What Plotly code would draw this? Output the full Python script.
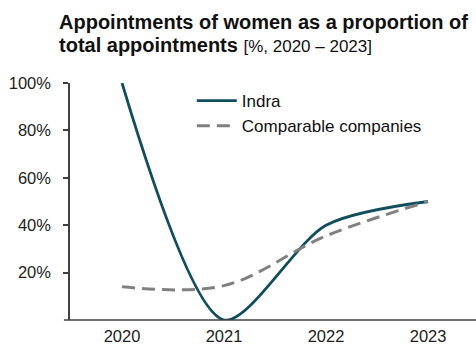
import plotly.graph_objects as go

years = [2020, 2021, 2022, 2023]
indra = [100, 0, 40, 50]
comparable = [14, 14.5, 35.5, 50]
y_ticks = [20, 40, 60, 80, 100]
y_tick_labels = ["20%", "40%", "60%", "80%", "100%"]

FONT = "Liberation Sans, Arial, sans-serif"
PLOT_BOTTOM = 320
PLOT_H = 237

fig = go.Figure()
fig.add_trace(go.Scatter(
    x=years, y=indra, name="Indra", mode="lines",
    line=dict(color="#0F4E5E", width=2.8, shape="spline", smoothing=0.8),
))
fig.add_trace(go.Scatter(
    x=years, y=comparable, name="Comparable companies", mode="lines",
    line=dict(color="#808080", width=3, dash="13px,7px", shape="spline", smoothing=1.0),
))

fig.update_layout(
    width=476, height=344,
    margin=dict(l=70, r=0, t=83, b=24, autoexpand=False),
    paper_bgcolor="white", plot_bgcolor="white",
    font=dict(family=FONT, size=16, color="#222222"),
    showlegend=True,
    legend=dict(x=0.30, y=1.0, xanchor="left", yanchor="top",
                bgcolor="rgba(0,0,0,0)", font=dict(size=17, color="#111111"),
                itemwidth=40, tracegroupgap=0),
    xaxis=dict(range=[2019.49, 2023.47], tickvals=years, ticktext=[str(y) for y in years],
               showgrid=False, zeroline=False, showline=False, ticks="",
               automargin=False, ticklabelstandoff=4,
               tickfont=dict(size=16.5, color="#222222")),
    yaxis=dict(range=[0, 100], tickvals=y_ticks, ticktext=y_tick_labels,
               showgrid=False, zeroline=False, showline=True, linecolor="#404040",
               linewidth=1.5, ticks="outside", ticklen=5, tickcolor="#404040",
               tickwidth=1.5, automargin=False, ticklabelstandoff=9,
               tickfont=dict(size=16.5, color="#222222")),
    annotations=[
        dict(xref="paper", yref="paper", x=-0.032, y=(PLOT_BOTTOM - 22) / PLOT_H,
             xanchor="left", yanchor="middle", align="left", showarrow=False,
             text="<b>Appointments of women as a proportion of</b>",
             font=dict(size=20, color="#111111", family=FONT)),
        dict(xref="paper", yref="paper", x=-0.032, y=(PLOT_BOTTOM - 45) / PLOT_H,
             xanchor="left", yanchor="middle", align="left", showarrow=False,
             text="<b>total appointments</b> <span style='font-size:17px'>[%, 2020 – 2023]</span>",
             font=dict(size=20, color="#111111", family=FONT)),
    ],
    shapes=[dict(type="line", xref="paper", yref="paper", x0=-0.015, x1=1, y0=0, y1=0,
                 line=dict(color="#404040", width=1.5))],
)

fig.write_html("out.html")
